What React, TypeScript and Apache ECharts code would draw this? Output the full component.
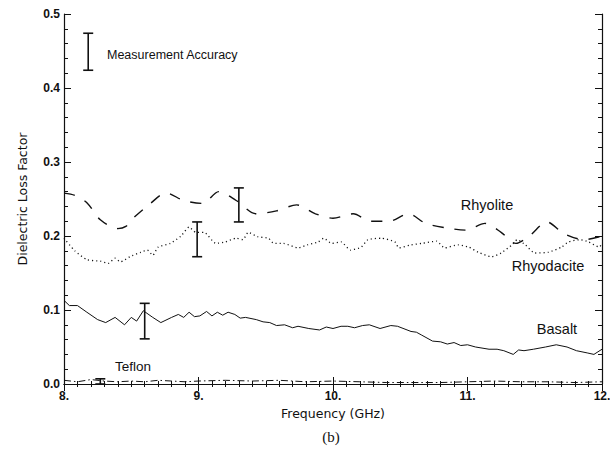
import React, { useEffect, useRef } from "react";
import * as echarts from "echarts";

const xTicks = [8, 9, 10, 11, 12];
const yTicks = [0, 0.1, 0.2, 0.3, 0.4, 0.5];

const rhyolite: number[][] = [
  [8.0, 0.258], [8.08, 0.255], [8.17, 0.245], [8.27, 0.222], [8.4, 0.21], [8.46, 0.213],
  [8.52, 0.225], [8.63, 0.242], [8.76, 0.258], [8.89, 0.248], [9.03, 0.244], [9.15, 0.26],
  [9.28, 0.248], [9.43, 0.23], [9.58, 0.234], [9.73, 0.242], [9.87, 0.23], [10.0, 0.224],
  [10.15, 0.23], [10.28, 0.22], [10.42, 0.22], [10.56, 0.23], [10.69, 0.217], [10.84, 0.211],
  [10.99, 0.208], [11.13, 0.217], [11.25, 0.205], [11.36, 0.19], [11.46, 0.2], [11.59, 0.219],
  [11.72, 0.203], [11.87, 0.195], [12.0, 0.2],
];

const rhyodacite: number[][] = [
  [8.0, 0.197], [8.08, 0.18], [8.17, 0.168], [8.27, 0.166], [8.33, 0.163], [8.38, 0.17],
  [8.42, 0.165], [8.49, 0.172], [8.57, 0.178], [8.62, 0.181], [8.66, 0.174], [8.7, 0.185],
  [8.79, 0.19], [8.87, 0.2], [8.93, 0.212], [8.98, 0.205], [9.04, 0.205], [9.13, 0.19],
  [9.2, 0.192], [9.28, 0.197], [9.33, 0.195], [9.37, 0.205], [9.44, 0.199], [9.52, 0.197],
  [9.56, 0.19], [9.63, 0.19], [9.74, 0.184], [9.81, 0.188], [9.89, 0.192], [9.93, 0.197],
  [9.99, 0.19], [10.06, 0.192], [10.13, 0.181], [10.21, 0.185], [10.26, 0.195], [10.36, 0.197],
  [10.46, 0.192], [10.49, 0.184], [10.58, 0.188], [10.66, 0.19], [10.77, 0.193], [10.83, 0.184],
  [10.93, 0.188], [11.01, 0.185], [11.08, 0.178], [11.18, 0.172], [11.25, 0.177], [11.33, 0.188],
  [11.37, 0.195], [11.43, 0.188], [11.5, 0.177], [11.6, 0.178], [11.7, 0.185], [11.75, 0.192],
  [11.84, 0.195], [11.9, 0.192], [11.98, 0.185], [12.0, 0.19],
];

const basalt: number[][] = [
  [8.0, 0.113], [8.04, 0.106], [8.1, 0.106], [8.17, 0.097], [8.25, 0.087], [8.31, 0.083],
  [8.38, 0.09], [8.45, 0.08], [8.5, 0.09], [8.54, 0.085], [8.59, 0.099], [8.66, 0.09],
  [8.72, 0.083], [8.8, 0.09], [8.85, 0.094], [8.89, 0.09], [8.93, 0.097], [8.97, 0.091],
  [9.01, 0.092], [9.06, 0.098], [9.1, 0.092], [9.14, 0.097], [9.18, 0.093], [9.22, 0.097],
  [9.27, 0.094], [9.31, 0.089], [9.35, 0.09], [9.43, 0.087], [9.48, 0.084], [9.53, 0.083],
  [9.58, 0.079], [9.64, 0.08], [9.7, 0.076], [9.74, 0.078], [9.82, 0.075], [9.9, 0.073],
  [9.95, 0.077], [10.0, 0.075], [10.06, 0.078], [10.11, 0.078], [10.16, 0.076], [10.22, 0.079],
  [10.27, 0.08], [10.35, 0.075], [10.43, 0.079], [10.48, 0.078], [10.58, 0.071], [10.62, 0.07],
  [10.66, 0.066], [10.74, 0.058], [10.8, 0.057], [10.85, 0.054], [10.9, 0.056], [10.95, 0.052],
  [11.0, 0.053], [11.06, 0.05], [11.16, 0.047], [11.22, 0.047], [11.27, 0.045], [11.34, 0.04],
  [11.38, 0.046], [11.42, 0.045], [11.49, 0.047], [11.58, 0.05], [11.66, 0.053], [11.74, 0.05],
  [11.81, 0.045], [11.89, 0.042], [11.94, 0.04], [12.0, 0.047],
];

const teflon: number[][] = [
  [8.0, 0.005], [8.1, 0.003], [8.2, 0.006], [8.3, 0.004], [8.4, 0.003], [8.5, 0.004],
  [8.6, 0.003], [8.7, 0.005], [8.8, 0.004], [8.9, 0.003], [9.0, 0.004], [9.2, 0.005],
  [9.4, 0.004], [9.6, 0.005], [9.8, 0.003], [10.0, 0.004], [10.2, 0.003], [10.4, 0.002],
  [10.6, 0.002], [10.8, 0.002], [11.0, 0.003], [11.2, 0.004], [11.4, 0.003], [11.6, 0.003],
  [11.8, 0.002], [12.0, 0.003],
];

// [frequency, low, high]
const errorBars: number[][] = [
  [8.18, 0.424, 0.474],
  [8.6, 0.061, 0.109],
  [8.99, 0.172, 0.219],
  [9.3, 0.219, 0.265],
  [8.27, 0.0, 0.007],
];

const FONT = "Liberation Sans, Arial, Helvetica, sans-serif";
const WIDE = "DejaVu Sans, Liberation Sans, sans-serif";
const INK = "#111";

export default function App() {
  const ref = useRef<HTMLDivElement>(null);
  useEffect(() => {
    if (!ref.current) return;
    const chart = echarts.init(ref.current, undefined, { renderer: "svg" });
    const axisCommon = {
      axisLine: { show: true, lineStyle: { color: INK, width: 1.2 } },
      splitLine: { show: false },
    };
    chart.setOption({
      animation: false,
      backgroundColor: "#fff",
      grid: { left: 64, right: 8, top: 14, bottom: 66, outerBoundsMode: "none", containLabel: false },
      xAxis: [
        {
          type: "value", min: xTicks[0], max: xTicks[xTicks.length - 1], interval: 1,
          position: "bottom", ...axisCommon,
          axisTick: { show: true, inside: true, length: 7, lineStyle: { color: INK } },
          minorTick: { show: true, splitNumber: 10, length: 3, lineStyle: { color: INK } },
          axisLabel: { color: INK, fontFamily: FONT, fontSize: 12, fontWeight: "bold", margin: 6, formatter: (v: number) => v + "." },
          name: "Frequency (GHz)", nameLocation: "middle", nameGap: 23,
          nameTextStyle: { color: INK, fontFamily: WIDE, fontSize: 12.5 },
        },
        {
          type: "value", min: xTicks[0], max: xTicks[xTicks.length - 1], interval: 1,
          position: "top", ...axisCommon,
          axisTick: { show: true, inside: true, length: 7, lineStyle: { color: INK } },
          minorTick: { show: true, splitNumber: 10, length: 3, lineStyle: { color: INK } },
          axisLabel: { show: false },
        },
      ],
      yAxis: [
        {
          type: "value", min: yTicks[0], max: yTicks[yTicks.length - 1], interval: 0.1,
          position: "left", ...axisCommon,
          axisTick: { show: true, inside: true, length: 7, lineStyle: { color: INK } },
          minorTick: { show: true, splitNumber: 5, length: 4, lineStyle: { color: INK } },
          axisLabel: { color: INK, fontFamily: FONT, fontSize: 12, fontWeight: "bold", margin: 4, formatter: (v: number) => v.toFixed(1) },
          name: "Dielectric Loss Factor", nameLocation: "middle", nameGap: 35,
          nameTextStyle: { color: INK, fontFamily: WIDE, fontSize: 12.5 },
        },
        {
          type: "value", min: yTicks[0], max: yTicks[yTicks.length - 1], interval: 0.1,
          position: "right", ...axisCommon,
          axisTick: { show: true, inside: true, length: 7, lineStyle: { color: INK } },
          minorTick: { show: true, splitNumber: 5, length: 4, lineStyle: { color: INK } },
          axisLabel: { show: false },
        },
      ],
      series: [
        {
          name: "Rhyolite", type: "line", data: rhyolite, showSymbol: false, smooth: 0.3,
          lineStyle: { color: INK, width: 1.4, type: [11, 11] },
        },
        {
          name: "Rhyodacite", type: "line", data: rhyodacite, showSymbol: false, smooth: 0.2,
          lineStyle: { color: INK, width: 1.3, type: [1.1, 3] },
        },
        {
          name: "Basalt", type: "line", data: basalt, showSymbol: false,
          lineStyle: { color: INK, width: 1 },
        },
        {
          name: "Teflon", type: "line", data: teflon, showSymbol: false,
          lineStyle: { color: INK, width: 1, type: [7, 3, 1.5, 3] },
        },
        {
          name: "Error", type: "custom", data: errorBars,
          renderItem: (params: any, api: any) => {
            const x = api.value(0);
            const lo = api.coord([x, api.value(1)]);
            const hi = api.coord([x, api.value(2)]);
            const w = 5;
            const style = { stroke: INK, lineWidth: 1.6 };
            return {
              type: "group",
              children: [
                { type: "line", shape: { x1: lo[0], y1: lo[1], x2: hi[0], y2: hi[1] }, style },
                { type: "line", shape: { x1: lo[0] - w, y1: lo[1], x2: lo[0] + w, y2: lo[1] }, style },
                { type: "line", shape: { x1: hi[0] - w, y1: hi[1], x2: hi[0] + w, y2: hi[1] }, style },
              ],
            };
          },
        },
      ],
      graphic: [
        { type: "text", x: 107, y: 55, style: { text: "Measurement Accuracy", fill: INK, font: `12.5px ${FONT}`, verticalAlign: "middle" } },
        { type: "text", x: 487, y: 205, style: { text: "Rhyolite", fill: INK, font: `14.5px ${FONT}`, align: "center", verticalAlign: "middle" } },
        { type: "text", x: 548, y: 266, style: { text: "Rhyodacite", fill: INK, font: `14.5px ${FONT}`, align: "center", verticalAlign: "middle" } },
        { type: "text", x: 557, y: 329, style: { text: "Basalt", fill: INK, font: `14.5px ${FONT}`, align: "center", verticalAlign: "middle" } },
        { type: "text", x: 133, y: 366, style: { text: "Teflon", fill: INK, font: `13.5px ${FONT}`, align: "center", verticalAlign: "middle" } },
        { type: "text", x: 331, y: 437, style: { text: "(b)", fill: INK, font: `15px Liberation Serif, Times New Roman, serif`, align: "center", verticalAlign: "middle" } },
      ],
    });
    return () => chart.dispose();
  }, []);
  return <div ref={ref} style={{ position: "fixed", left: 0, top: 0, width: 610, height: 450 }} />;
}
